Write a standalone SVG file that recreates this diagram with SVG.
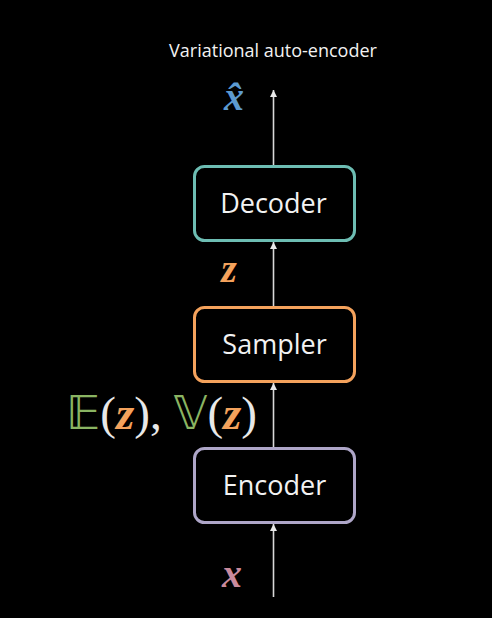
<svg xmlns="http://www.w3.org/2000/svg" width="492" height="618" viewBox="0 0 492 618">
<defs>
<marker id="ah" markerWidth="8" markerHeight="8" refX="7" refY="4" orient="auto" markerUnits="userSpaceOnUse">
<path d="M0,0.5 L7,4 L0,7.5 Z" fill="#e8e8e8"/>
</marker>
<style>
.box{fill:#000;stroke-width:3}
.lbl{font-family:"Open Sans","Liberation Sans",sans-serif;font-size:27px;fill:#f2f2f2;text-anchor:middle}
.math{font-family:"Liberation Serif","DejaVu Serif",serif;font-style:italic;font-weight:bold}
.bb{font-family:"DejaVu Sans","DejaVu Serif",serif;font-style:normal;font-weight:normal}
.par{font-family:"Liberation Serif",serif;font-style:normal;font-weight:normal}
.conn{stroke:#d8d8d8;stroke-width:1.6;fill:none;marker-end:url(#ah)}
</style>
</defs>
<rect width="492" height="618" fill="#000"/>
<text x="273" y="57" font-family="'Open Sans','Liberation Sans',sans-serif" font-size="18" fill="#f2f2f2" text-anchor="middle">Variational auto-encoder</text>
<g id="connectors">
<line class="conn" x1="273.5" y1="597" x2="273.5" y2="524"/>
<line class="conn" x1="273.5" y1="447" x2="273.5" y2="383"/>
<line class="conn" x1="273.5" y1="306" x2="273.5" y2="242"/>
<line class="conn" x1="273.5" y1="165" x2="273.5" y2="90"/>
</g>
<g id="decoder">
<rect class="box" x="194.5" y="166.5" width="160" height="74" rx="10" stroke="#6dbdb3"/>
<text class="lbl" x="273.5" y="213">Decoder</text>
</g>
<g id="sampler">
<rect class="box" x="194.5" y="307.5" width="160" height="74" rx="10" stroke="#f4a25c"/>
<text class="lbl" x="274.5" y="354">Sampler</text>
</g>
<g id="encoder">
<rect class="box" x="194.5" y="448.5" width="160" height="74" rx="10" stroke="#aea6c8"/>
<text class="lbl" x="274.5" y="495">Encoder</text>
</g>
<g id="xhat">
<text class="math" x="234" y="110" font-size="40" fill="#5c9ad0" text-anchor="middle">x̂</text>
</g>
<g id="zlabel">
<text class="math" x="229" y="282" font-size="40" fill="#f4a25c" text-anchor="middle">z</text>
</g>
<g id="moments">
<text x="66" y="429" font-size="47" class="math"><tspan class="bb" fill="#8ab462">𝔼</tspan><tspan class="par" fill="#e8e8e8">(</tspan><tspan fill="#f4a25c">z</tspan><tspan class="par" fill="#e8e8e8">), </tspan><tspan class="bb" fill="#8ab462">𝕍</tspan><tspan class="par" fill="#e8e8e8">(</tspan><tspan fill="#f4a25c">z</tspan><tspan class="par" fill="#e8e8e8">)</tspan></text>
</g>
<g id="xlabel">
<text class="math" x="232" y="587" font-size="40" fill="#c98a9c" text-anchor="middle">x</text>
</g>
</svg>
